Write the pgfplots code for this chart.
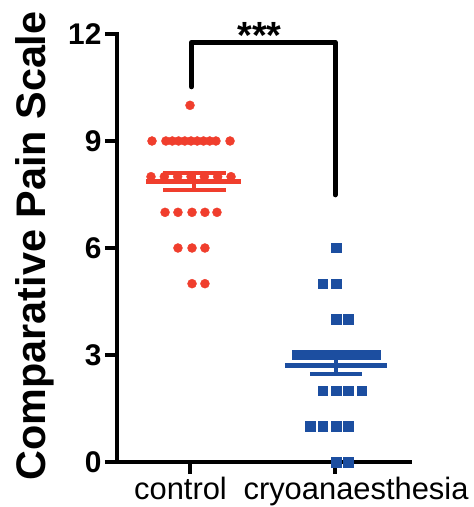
\documentclass[border=0pt]{standalone}
\usepackage{pgfplots}
\pgfplotsset{compat=1.18}
\usepackage{fontspec}
\setmainfont{Liberation Sans}
\definecolor{ptred}{RGB}{240,62,45}
\definecolor{ptblue}{RGB}{28,78,160}
\begin{document}
\begin{tikzpicture}
\begin{axis}[
  at={(0,0)}, anchor=south west,
  scale only axis, width=293bp, height=428bp,
  xmin=0.4966, xmax=2.517, ymin=0, ymax=12,
  axis x line*=bottom, axis y line*=left,
  axis line style={line width=4bp, -, line cap=rect},
  xtick={1,2}, ytick={0,3,6,9,12},
  xticklabels={\hspace*{-19bp}control,\hspace*{42bp}cryoanaesthesia},
  tick align=outside, major tick length=12bp,
  tick style={line width=4bp, black},
  /pgf/number format/assume math mode=true,
  yticklabel style={font=\fontsize{30}{30}\selectfont\bfseries},
  xticklabel style={font=\fontsize{31}{31}\selectfont},
  ylabel={Comparative Pain Scale},
  ylabel style={font=\fontsize{41.5}{41.5}\selectfont\bfseries,
    at={(axis description cs:-0.2457,0.505)}, anchor=base},
  clip=false,
]
% control group
\addplot[only marks, mark=*, mark size=4.5bp, color=ptred] coordinates {
  (1.0,10)
  (0.738,9)(0.834,9)(0.878,9)(0.921,9)(0.964,9)(1.007,9)(1.05,9)(1.093,9)(1.136,9)(1.179,9)(1.276,9)
  (0.731,8)(0.823,8)(0.915,8)(1.007,8)(1.099,8)(1.191,8)(1.283,8)
  (0.828,7)(0.917,7)(1.014,7)(1.103,7)(1.186,7)
  (0.917,6)(1.014,6)(1.103,6)
  (1.014,5)(1.103,5)
};
% cryoanaesthesia group
\addplot[only marks, mark=square*, mark size=4.7bp, color=ptblue] coordinates {
  (2.007,6)
  (1.917,5)(2.007,5)
  (2.007,4)(2.09,4)
  (1.738,3)(1.776,3)(1.815,3)(1.853,3)(1.892,3)(1.930,3)(1.968,3)(2.007,3)
  (2.045,3)(2.084,3)(2.122,3)(2.161,3)(2.199,3)(2.238,3)(2.276,3)
  (1.917,2)(2.007,2)(2.09,2)(2.186,2)
  (1.828,1)(1.917,1)(2.007,1)(2.09,1)
  (2.007,0)(2.09,0)
};
% mean +/- SEM, control
\addplot[ptred, line width=4.5bp, mark=none] coordinates {(0.70,7.86)(1.35,7.86)};
\addplot[ptred, line width=4bp, mark=none] coordinates {(1.03,7.63)(1.03,8.09)};
\addplot[ptred, line width=4bp, mark=none] coordinates {(0.815,8.09)(1.245,8.09)};
\addplot[ptred, line width=4bp, mark=none] coordinates {(0.815,7.63)(1.245,7.63)};
% mean +/- SEM, cryoanaesthesia
\addplot[ptblue, line width=4.5bp, mark=none] coordinates {(1.655,2.70)(2.36,2.70)};
\addplot[ptblue, line width=4bp, mark=none] coordinates {(2.007,2.48)(2.007,2.92)};
\addplot[ptblue, line width=4bp, mark=none] coordinates {(1.83,2.92)(2.185,2.92)};
\addplot[ptblue, line width=4bp, mark=none] coordinates {(1.83,2.48)(2.185,2.48)};
% significance bracket
\addplot[black, line width=5bp, line cap=round, line join=round, mark=none]
  coordinates {(1.01,10.52)(1.01,11.77)(2,11.77)(2,7.49)};
\node[font=\fontsize{38}{38}\selectfont\bfseries, anchor=base] at (axis cs:1.48,11.6) {***};
\end{axis}
\pgfresetboundingbox
\path[use as bounding box] (-117bp,-45bp) rectangle (357bp,462bp);
\end{tikzpicture}
\end{document}
